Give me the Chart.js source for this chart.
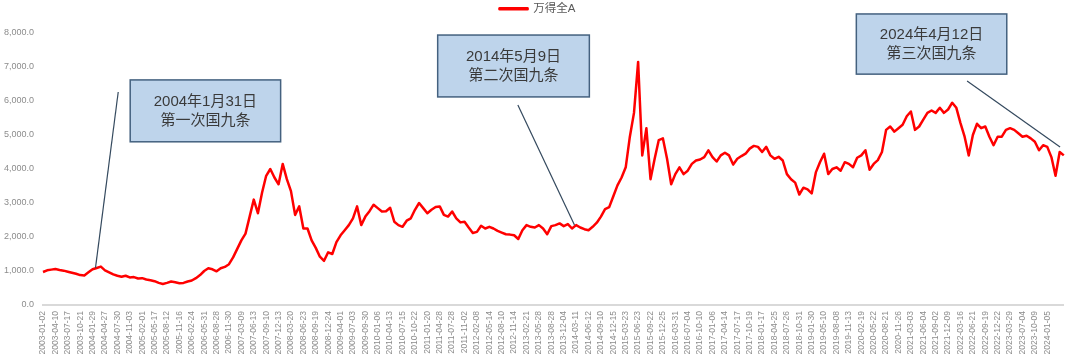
<!DOCTYPE html>
<html><head><meta charset="utf-8">
<script src="https://cdn.jsdelivr.net/npm/chart.js@4.4.1/dist/chart.umd.min.js"></script>
<style>html,body{margin:0;padding:0;background:#fff}</style>
</head><body>
<canvas id="c" width="1080" height="359"></canvas>
<script>
// ---- data ----
const tickLabels = ['2003-01-02','2003-04-10','2003-07-17','2003-10-21','2004-01-29','2004-04-27','2004-07-30','2004-11-03','2005-02-01','2005-05-17','2005-08-12','2005-11-16','2006-02-24','2006-05-31','2006-08-28','2006-11-30','2007-03-09','2007-06-13','2007-09-10','2007-12-13','2008-03-20','2008-06-23','2008-09-19','2008-12-24','2009-04-01','2009-07-03','2009-09-30','2010-01-06','2010-04-13','2010-07-15','2010-10-22','2011-01-20','2011-04-28','2011-07-28','2011-11-02','2012-02-08','2012-05-14','2012-08-10','2012-11-14','2013-02-21','2013-05-28','2013-08-28','2013-12-04','2014-03-11','2014-06-12','2014-09-10','2014-12-15','2015-03-23','2015-06-23','2015-09-22','2015-12-25','2016-03-31','2016-07-04','2016-10-10','2017-01-06','2017-04-14','2017-07-17','2017-10-19','2018-01-17','2018-04-25','2018-07-26','2018-10-31','2019-01-30','2019-05-10','2019-08-08','2019-11-13','2020-02-19','2020-05-22','2020-08-21','2020-11-26','2021-03-03','2021-06-04','2021-09-02','2021-12-09','2022-03-16','2022-06-21','2022-09-19','2022-12-22','2023-03-29','2023-07-04','2023-10-09','2024-01-05'];
const seriesName = '万得全A';
// sampled roughly every 21 trading days (3 samples per tick interval)
const values = [
 970,1020,1040,1060,1030,1010,980,950,920,880,870,960,
 1050,1090,1130,1020,960,900,860,830,860,810,820,780,
 790,750,730,700,650,620,650,690,670,640,650,690,
 720,790,880,1000,1080,1050,990,1080,1120,1200,1400,1650,
 1900,2100,2600,3100,2700,3300,3800,4000,3750,3550,4150,3700,
 3350,2650,2900,2250,2250,1900,1680,1420,1300,1550,1500,1850,
 2050,2200,2350,2550,2900,2350,2600,2760,2950,2850,2750,2760,
 2860,2450,2350,2300,2480,2550,2800,3000,2850,2700,2800,2880,
 2900,2650,2600,2750,2550,2430,2450,2280,2120,2150,2330,2250,
 2300,2250,2180,2130,2080,2070,2050,1940,2200,2350,2300,2280,
 2350,2250,2080,2320,2350,2400,2320,2380,2250,2350,2280,2230,
 2200,2300,2420,2600,2820,2880,3200,3520,3750,4050,4950,5650,
 7150,4400,5200,3700,4300,4850,4900,4300,3550,3850,4050,3850,
 3950,4150,4250,4280,4350,4550,4350,4220,4400,4480,4400,4130,
 4300,4380,4450,4600,4680,4650,4500,4650,4400,4300,4360,4250,
 3850,3700,3600,3250,3450,3400,3280,3900,4200,4450,3850,4000,
 4050,3950,4200,4150,4050,4330,4400,4550,3980,4150,4260,4500,
 5150,5250,5100,5200,5300,5550,5690,5150,5250,5450,5650,5720,
 5650,5800,5650,5750,5950,5800,5350,4950,4400,5000,5330,5200,
 5250,4950,4700,4950,4950,5150,5200,5150,5050,4950,4980,4900,
 4800,4550,4700,4650,4350,3800,4500,4400
];
const yMin = 0, yMax = 8000, yStep = 1000;
const noteTexts = [
  ['2004年1月31日','第一次国九条'],
  ['2014年5月9日','第二次国九条'],
  ['2024年4月12日','第三次国九条']
];
// annotation anchors in data space: [categoryIndex, value]
const noteBoxes = [
  [21.1, 6620, 57.5, 4800],
  [95.5, 7940, 132.2, 6120],
  [196.8, 8560, 233.2, 6790]
];
const noteLeaders = [
  [18.2, 6265, 12.7, 1090],
  [114.9, 5880, 128.6, 2350],
  [223.6, 6590, 246.1, 4650]
];

const categories = values.map((_, i) => (i % 3 === 0 && tickLabels[i / 3]) ? tickLabels[i / 3] : '');
const FONT = "'Liberation Sans', 'Noto Sans CJK SC', sans-serif";

const legendHeight = {
  id: 'legendHeight',
  beforeInit(chart) {
    const orig = chart.legend.fit;
    chart.legend.fit = function () { orig.bind(chart.legend)(); this.height = 33; };
  }
};

const notesPlugin = {
  id: 'notes',
  afterDraw(chart) {
    const { ctx, scales: { x, y } } = chart;
    ctx.save();
    noteLeaders.forEach(l => {
      ctx.beginPath();
      ctx.strokeStyle = '#34495e';
      ctx.lineWidth = 1.2;
      ctx.moveTo(x.getPixelForValue(l[0]), y.getPixelForValue(l[1]));
      ctx.lineTo(x.getPixelForValue(l[2]), y.getPixelForValue(l[3]));
      ctx.stroke();
    });
    noteBoxes.forEach((b, i) => {
      const x1 = x.getPixelForValue(b[0]), y1 = y.getPixelForValue(b[1]);
      const x2 = x.getPixelForValue(b[2]), y2 = y.getPixelForValue(b[3]);
      ctx.fillStyle = '#bed4eb';
      ctx.fillRect(x1, y1, x2 - x1, y2 - y1);
      ctx.strokeStyle = '#44617f';
      ctx.lineWidth = 1.5;
      ctx.strokeRect(x1, y1, x2 - x1, y2 - y1);
      ctx.fillStyle = '#3a3a3a';
      ctx.font = '15px ' + FONT;
      ctx.textAlign = 'center';
      ctx.textBaseline = 'middle';
      const cx = (x1 + x2) / 2, cy = (y1 + y2) / 2;
      ctx.fillText(noteTexts[i][0], cx, cy - 9.5);
      ctx.fillText(noteTexts[i][1], cx, cy + 9.5);
    });
    ctx.restore();
  }
};

new Chart(document.getElementById('c'), {
  type: 'line',
  data: {
    labels: categories,
    datasets: [{
      label: seriesName,
      data: values,
      borderColor: '#ff0000',
      backgroundColor: '#ff0000',
      borderWidth: 2.5,
      pointRadius: 0,
      tension: 0,
      borderJoinStyle: 'round'
    }]
  },
  options: {
    responsive: false,
    animation: false,
    devicePixelRatio: 1,
    layout: { padding: { left: 0, right: 5, top: 0, bottom: 0 } },
    plugins: {
      legend: {
        position: 'top',
        labels: { boxWidth: 28, boxHeight: 1, padding: 3, color: '#595959', font: { size: 11.5, family: FONT } }
      },
      tooltip: { enabled: false }
    },
    scales: {
      x: {
        type: 'category',
        grid: { display: false, drawTicks: false },
        border: { display: true, color: '#d9d9d9', width: 2 },
        ticks: { autoSkip: false, maxRotation: 90, minRotation: 90, padding: 6, color: '#8c8c8c', font: { size: 8.5, family: FONT } },
        afterFit(s) { s.height = 54; }
      },
      y: {
        min: yMin, max: yMax,
        grid: { display: false, drawTicks: false },
        border: { display: false },
        ticks: {
          stepSize: yStep, padding: 9, color: '#8c8c8c', font: { size: 9, family: FONT },
          callback: v => v.toLocaleString('en-US', { minimumFractionDigits: 1, maximumFractionDigits: 1 })
        },
        afterFit(s) { s.width = 43; }
      }
    }
  },
  plugins: [legendHeight, notesPlugin]
});
</script>
</body></html>
